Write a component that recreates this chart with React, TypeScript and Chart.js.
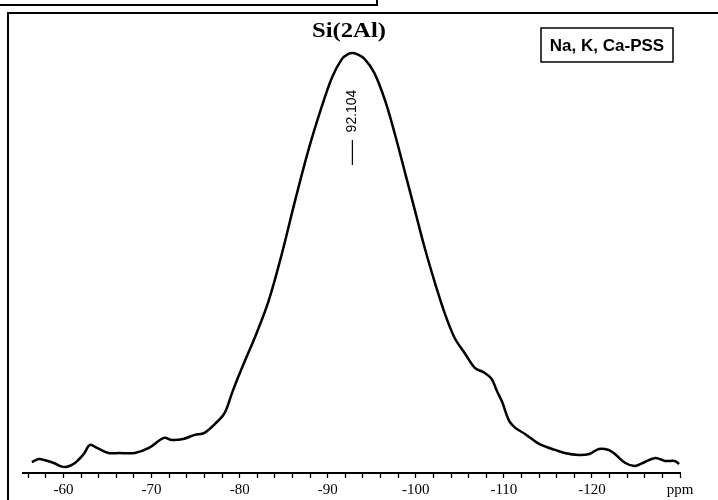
import React, { useEffect, useRef } from 'react';
import { Chart, registerables } from 'chart.js';

Chart.register(...registerables);

// Chemical shift (ppm) and intensity (arbitrary units)
const PPM = [
  -56.4, -57.2, -57.8, -58.9, -59.6, -60.3, -61.3, -62.3, -63.0, -63.8,
  -65.1, -66.3, -68.1, -69.7, -71.4, -72.3, -73.6, -74.9, -76.0, -77.2,
  -78.3, -79.1, -79.8, -80.6, -81.9, -83.3, -84.8, -86.3, -87.8, -89.3,
  -90.5, -91.6, -92.3, -92.8, -93.3, -94.2, -95.3, -96.5, -97.6, -98.8, -99.9,
  -101.0, -102.2, -103.3, -104.4, -105.6, -106.7, -107.8, -108.6, -109.2, -109.8,
  -110.6, -111.3, -112.4, -114.0, -115.5, -116.9, -118.5, -119.7, -120.8, -121.9,
  -122.6, -123.8, -124.9, -126.0, -127.2, -128.3, -129.4, -129.9,
];
const INTENSITY = [
  11, 14, 13, 10, 7, 6, 10, 19, 28, 25,
  20, 20, 20, 25, 35, 33, 34, 38, 40, 49,
  60, 79, 95, 112, 139, 172, 219, 272, 322, 365,
  395, 413, 418, 419, 418, 413, 399, 372, 339, 299, 262,
  225, 189, 159, 135, 119, 105, 100, 94, 82, 71,
  52, 45, 39, 29, 24, 20, 18, 19, 24, 23,
  19, 10, 7, 11, 15, 12, 12, 9,
];

const MAJOR_TICKS = [-60, -70, -80, -90, -100, -110, -120];
const UNIT_TICK = -130;
const UNIT_LABEL = 'ppm';
const X_MIN = -130;
const X_MAX = -55.4;
const Y_MAX = 460;

const TITLE = 'Si(2Al)';
const LEGEND_TEXT = 'Na, K, Ca-PSS';
const PEAK_LABEL = '92.104';
const PEAK_MARK_PPM = -92.8;

const decorPlugin = {
  id: 'decor',
  afterDraw(chart: any) {
    const ctx = chart.ctx as CanvasRenderingContext2D;
    const xs = chart.scales.x;
    ctx.save();
    ctx.strokeStyle = '#000';
    ctx.fillStyle = '#000';
    ctx.lineWidth = 2;

    // outer frame
    ctx.beginPath();
    ctx.moveTo(8, 500);
    ctx.lineTo(8, 13);
    ctx.lineTo(718, 13);
    ctx.stroke();

    // fragment of the panel above
    ctx.beginPath();
    ctx.moveTo(0, 5);
    ctx.lineTo(377, 5);
    ctx.lineTo(377, 0);
    ctx.stroke();

    // title
    ctx.save();
    ctx.font = 'bold 22px "Liberation Serif", "DejaVu Serif", serif';
    ctx.textAlign = 'center';
    ctx.textBaseline = 'alphabetic';
    ctx.translate(349, 37);
    ctx.scale(1.12, 1);
    ctx.fillText(TITLE, 0, 0);
    ctx.restore();

    // legend box
    ctx.lineWidth = 1.5;
    ctx.strokeRect(541, 28, 132, 34);
    ctx.font = 'bold 17px "Liberation Sans", Arial, sans-serif';
    ctx.textAlign = 'center';
    ctx.textBaseline = 'alphabetic';
    ctx.fillText(LEGEND_TEXT, 607, 51);

    // peak marker
    const px = xs.getPixelForValue(PEAK_MARK_PPM);
    ctx.save();
    ctx.font = '14px "Liberation Sans", Arial, sans-serif';
    ctx.translate(px, 111);
    ctx.rotate(-Math.PI / 2);
    ctx.textAlign = 'center';
    ctx.textBaseline = 'middle';
    ctx.fillText(PEAK_LABEL, 0, 0);
    ctx.restore();
    ctx.lineWidth = 1.2;
    ctx.beginPath();
    ctx.moveTo(px, 140);
    ctx.lineTo(px, 165);
    ctx.stroke();

    ctx.restore();
  },
};

export default function App() {
  const canvasRef = useRef<HTMLCanvasElement | null>(null);

  useEffect(() => {
    if (!canvasRef.current) return;
    const data = PPM.map((p, i) => ({ x: p, y: INTENSITY[i] }));
    const chart = new Chart(canvasRef.current, {
      type: 'line',
      data: {
        datasets: [
          {
            data,
            borderColor: '#000',
            borderWidth: 2.5,
            pointRadius: 0,
            fill: false,
            tension: 0.35,
          },
        ],
      },
      options: {
        responsive: false,
        animation: false,
        events: [],
        layout: { padding: { top: 12, left: 23, right: 38, bottom: -2 } },
        plugins: {
          legend: { display: false },
          tooltip: { enabled: false },
          title: { display: false },
        },
        scales: {
          x: {
            type: 'linear',
            reverse: true,
            min: X_MIN,
            max: X_MAX,
            bounds: 'data',
            border: { display: true, color: '#000', width: 2 },
            grid: {
              drawOnChartArea: false,
              drawTicks: true,
              tickLength: 5,
              tickColor: '#000',
              tickWidth: 1.3,
            },
            ticks: {
              stepSize: 2,
              autoSkip: false,
              includeBounds: false,
              maxRotation: 0,
              padding: 3,
              color: '#000',
              font: { family: '"Liberation Serif", "DejaVu Serif", serif', size: 15 },
              callback: (v: any) => {
                const n = Math.round(Number(v));
                if (n === UNIT_TICK) return UNIT_LABEL;
                return MAJOR_TICKS.includes(n) ? String(n) : '';
              },
            },
          },
          y: {
            type: 'linear',
            display: false,
            min: 0,
            max: Y_MAX,
          },
        },
      },
      plugins: [decorPlugin],
    } as any);
    return () => chart.destroy();
  }, []);

  return (
    <div style={{ position: 'absolute', left: 0, top: 0, width: 718, height: 500, background: '#fff' }}>
      <canvas ref={canvasRef} width={718} height={500} style={{ display: 'block' }} />
    </div>
  );
}
